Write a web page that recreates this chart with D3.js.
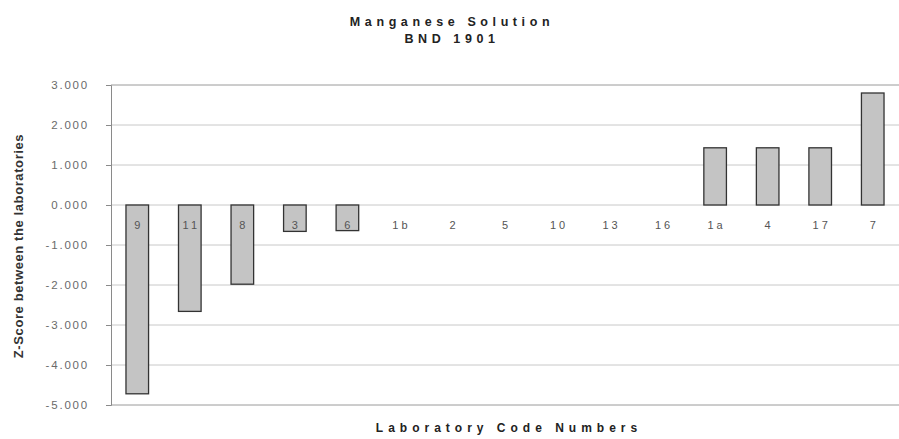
<!DOCTYPE html>
<html><head><meta charset="utf-8">
<script src="https://cdn.jsdelivr.net/npm/d3@7"></script>
<style>body{margin:0;background:#fff}svg{display:block}</style>
</head><body>
<svg id="c" width="899" height="439"></svg>
<script>
const categories = ["9","11","8","3","6","1b","2","5","10","13","16","1a","4","17","7"];
const zscores = [-4.72,-2.66,-1.98,-0.66,-0.64,0,0,0,0,0,0,1.43,1.43,1.43,2.8];
const yTicks = [3,2,1,0,-1,-2,-3,-4,-5];
const titleLines = ["Manganese Solution","BND 1901"];
const xTitle = "Laboratory Code Numbers";
const yTitle = "Z-Score between the laboratories";

const font = "Liberation Sans, Arial, sans-serif";
const svg = d3.select("#c");
const m = {left:111, right:899, top:85, bottom:405};
const x = d3.scaleBand().domain(categories).range([m.left, m.right]).paddingInner(0.57).paddingOuter(0.285);
const y = d3.scaleLinear().domain([-5,3]).range([m.bottom, m.top]);
const fmt = d3.formatLocale({decimal:".", thousands:",", grouping:[3], currency:["",""], minus:"-"}).format(".3f");

// grid
svg.append("g").selectAll("line").data(yTicks).join("line")
  .attr("x1", m.left).attr("x2", m.right)
  .attr("y1", d=>y(d)).attr("y2", d=>y(d))
  .attr("stroke", d => (d===3||d===-5) ? "#9a9a9a" : "#c8c8c8").attr("stroke-width",1);

// y axis
const ya = svg.append("g").attr("transform",`translate(${m.left},0)`)
  .call(d3.axisLeft(y).tickValues(yTicks).tickFormat(fmt).tickSize(5).tickPadding(17));
ya.select(".domain").attr("stroke","#8a8a8a");
ya.selectAll(".tick line").attr("stroke","#8a8a8a");
ya.selectAll("text").attr("fill","#6a6a6a").style("font-family",font).style("font-size","11.5px").style("letter-spacing","1.8px");

// bars
svg.append("g").selectAll("rect").data(categories.map((c,i)=>({c,v:zscores[i]})).filter(d=>d.v!==0)).join("rect")
  .attr("x", d=>x(d.c)).attr("width", x.bandwidth())
  .attr("y", d=>y(Math.max(0,d.v))).attr("height", d=>Math.abs(y(d.v)-y(0)))
  .attr("fill","#c4c4c4").attr("stroke","#333").attr("stroke-width",1.3);

// category labels
svg.append("g").selectAll("text").data(categories).join("text")
  .attr("x", d=>x(d)+x.bandwidth()/2+1.5).attr("y", y(0)+24)
  .attr("text-anchor","middle").attr("fill","#555")
  .style("font-family",font).style("font-size","11px").style("letter-spacing","3px")
  .text(d=>d);

// titles
svg.append("g").selectAll("text").data(titleLines).join("text")
  .attr("x", 452).attr("y", (d,i)=>26+i*17).attr("text-anchor","middle")
  .attr("fill","#222").style("font-family",font)
  .style("font-size","12.5px").style("font-weight","bold").style("letter-spacing","4.6px").text(d=>d);

svg.append("text").attr("x", 509).attr("y", 432).attr("text-anchor","middle")
  .attr("fill","#222").style("font-family",font)
  .style("font-size","12px").style("font-weight","bold").style("letter-spacing","5px").text(xTitle);

svg.append("text").attr("transform","translate(23,246) rotate(-90)").attr("text-anchor","middle")
  .attr("fill","#333").style("font-family",font)
  .style("font-size","13px").style("font-weight","bold").style("letter-spacing","0.6px").text(yTitle);
</script>
</body></html>
